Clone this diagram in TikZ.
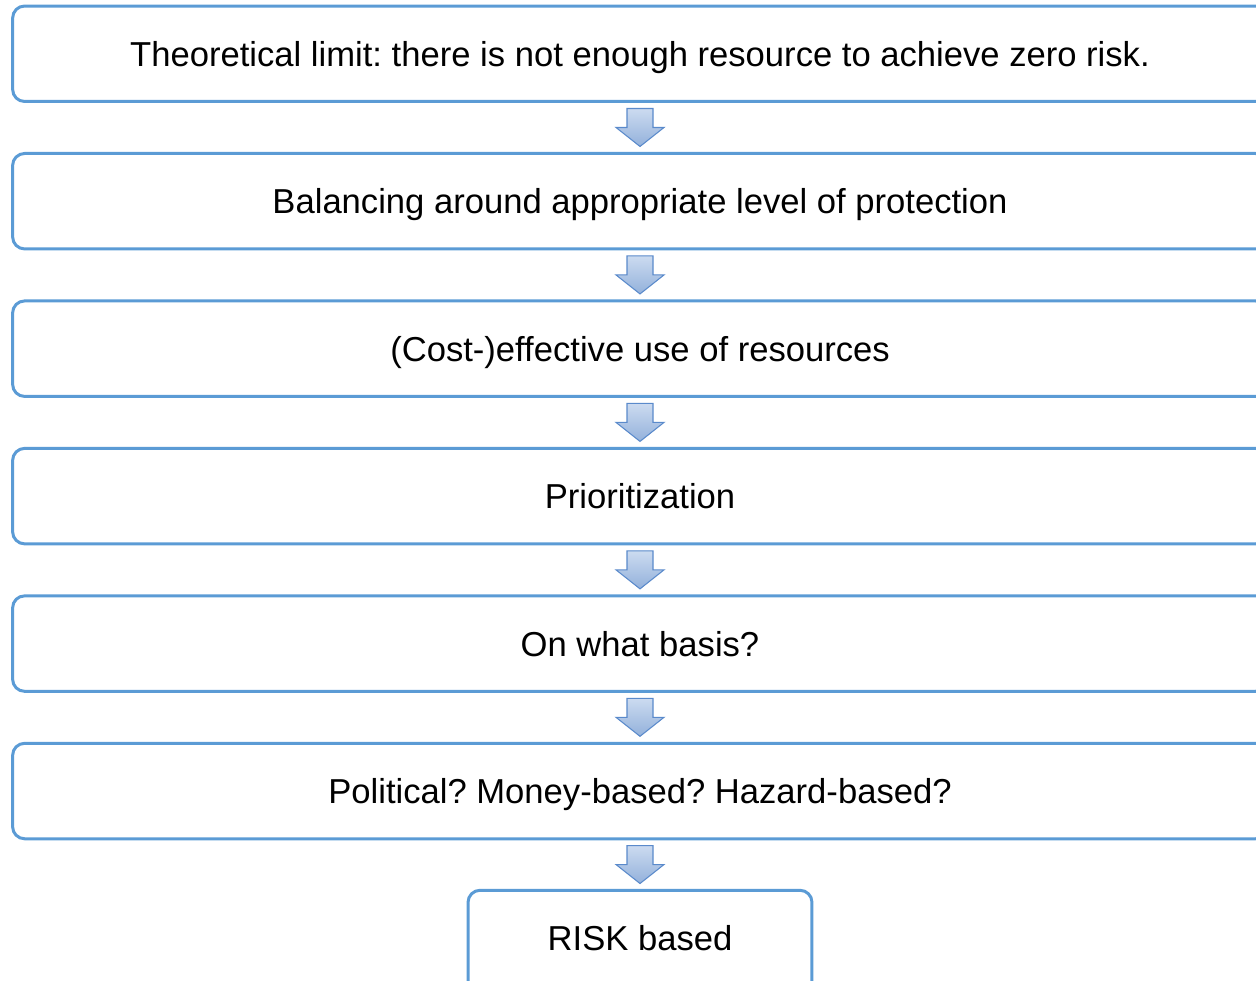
\documentclass[tikz,border=0pt]{standalone}
\usepackage{fontspec}
\setmainfont{Liberation Sans}
\usetikzlibrary{positioning,calc}

\definecolor{boxblue}{HTML}{5B9BD5}
\definecolor{arrowline}{HTML}{5A8ACB}
\definecolor{arrowtop}{HTML}{CCDBF0}
\definecolor{arrowbot}{HTML}{93B1DB}

\tikzset{
  stepbox/.style={draw=boxblue,line width=1.7pt,rounded corners=0.24cm,
    minimum width=25.1cm,minimum height=1.91cm,inner sep=0pt,
    text height=0.5cm,text depth=0pt,
    font=\fontsize{19.7}{24}\selectfont},
  downarrow/.style={draw=arrowline,line width=0.6pt,line join=miter,
    top color=arrowtop,bottom color=arrowbot}
}

% block arrow between two boxes
\newcommand{\blockarrow}[2]{%
  \path (#1.south) -- (#2.north) coordinate[midway] (m);
  \draw[downarrow] ($(m)+(-13,-19)$) -- ($(m)+(13,-19)$) -- ($(m)+(13,0)$)
    -- ($(m)+(24,0)$) -- ($(m)+(0,19)$) -- ($(m)+(-24,0)$)
    -- ($(m)+(-13,0)$) -- cycle;}

\begin{document}
\begin{tikzpicture}[x=0.02cm,y=-0.02cm,node distance=0.98cm]
  \frenchspacing
  \useasboundingbox (0,0) rectangle (1256,980);
  \clip (0,0) rectangle (1256,980);

  % steps
  \node[stepbox] (limit) at (640,53.75)
    {Theoretical limit: there is not enough resource to achieve zero risk.};
  \node[stepbox,below=of limit] (balance)
    {Balancing around appropriate level of protection};
  \node[stepbox,below=of balance] (costeff) {(Cost-)effective use of resources};
  \node[stepbox,below=of costeff] (prior) {Prioritization};
  \node[stepbox,below=of prior] (basis) {On what basis?};
  \node[stepbox,below=of basis] (options)
    {Political? Money-based? Hazard-based?};
  \node[stepbox,minimum width=6.88cm,minimum height=2.2cm,text depth=0.29cm,
    below=0.97cm of options] (risk) {RISK based};

  % arrows
  \foreach \a/\b in {limit/balance,balance/costeff,costeff/prior,
    prior/basis,basis/options,options/risk}
    {\blockarrow{\a}{\b}}
\end{tikzpicture}
\end{document}
